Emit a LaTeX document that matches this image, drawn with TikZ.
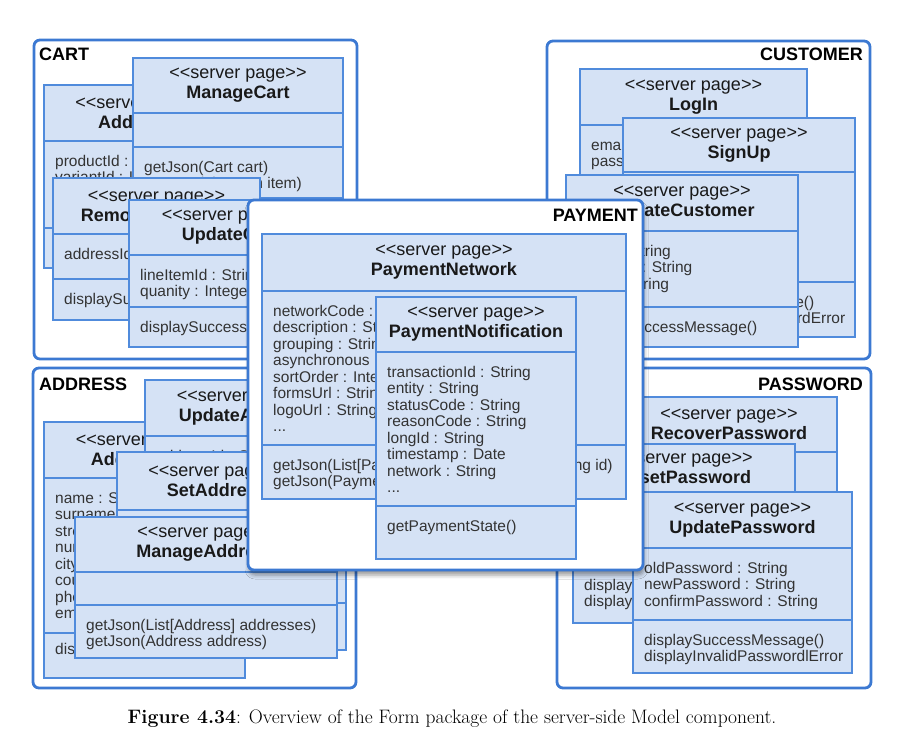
\documentclass[tikz,border=0pt]{standalone}
\usepackage{fontspec}
\setsansfont{Liberation Sans}
\usetikzlibrary{shadows.blur}
\definecolor{pagefill}{RGB}{213,226,245}
\definecolor{pageline}{RGB}{80,139,220}
\definecolor{pkgline}{RGB}{60,121,210}
\newcommand\srv{<{}<server page>{}>}
\newcommand\tp{\rule{0pt}{12pt}}
% one server page: name, x1, y1, x2, y2, header bottom, methods line, attributes, methods
\newcommand\srvpage[9]{%
  \filldraw[pagebox] (#2,#3) rectangle (#4,#5);
  \draw[pagesep] (#2,#6) -- (#4,#6) (#2,#7) -- (#4,#7);
  \node[pagehead] (#1) at ({(#2+#4)/2},{(#3+#6)/2}) {\srv\\\textbf{#1}};
  \node[pagetext] (#1-attr) at (#2+11,#6+13) {\tp#8};
  \node[pagetext] (#1-meth) at (#2+11,#7+13) {\tp#9};}

\begin{document}
\begin{tikzpicture}[x=1pt,y=-1pt,
  pkgbox/.style={fill=white,draw=pkgline,line width=2.8pt,rounded corners=6pt},
  pkglabel/.style={font=\sffamily\bfseries\fontsize{18}{20}\selectfont,inner sep=0},
  pagebox/.style={fill=pagefill,draw=pageline,line width=2.3pt},
  pagesep/.style={draw=pageline,line width=2.3pt},
  pagehead/.style={align=center,inner sep=0,text=black!90,font=\sffamily\fontsize{18}{20}\selectfont},
  pagetext/.style={anchor=north west,align=left,inner sep=0,text=black!80,font=\sffamily\fontsize{15.5}{16.5}\selectfont}]
\useasboundingbox (0,0) rectangle (905,754);
% cart
\filldraw[pkgbox] (34,40) rectangle (357,359);
\node[pkglabel,anchor=base west] (cart) at (39,61) {CART};
\srvpage{AddToCart}{44}{85}{244}{268}{141}{228}{productId : String\\variantId : Integer}{}
\srvpage{ManageCart}{133}{58}{343}{198}{113}{147}{}{getJson(Cart cart)\\getJson(LineItem item)}
\srvpage{RemoveFromCart}{53}{178}{260}{320}{234}{279}{addressId : String}{displaySuccessMessage()}
\srvpage{UpdateCart}{129}{200}{332}{347}{255}{307}{lineItemId : String\\quanity : Integer}{displaySuccessMessage()}
% customer
\filldraw[pkgbox] (547,41) rectangle (870,359);
\node[pkglabel,anchor=base east] (customer) at (863,61) {CUSTOMER};
\srvpage{LogIn}{580}{69}{807}{260}{125}{200}{email : String\\password : String}{}
\srvpage{SignUp}{623}{118}{855}{337}{172}{282}{}{displaySuccessMessage()\\displayIncorrectPasswordError}
\srvpage{UpdateCustomer}{566}{175}{798}{347}{231}{307}{name : String\\surname : String\\email : String}{displaySuccessMessage()}
% address
\filldraw[pkgbox] (33,368) rectangle (356,688);
\node[pkglabel,anchor=base west] (address) at (39,390) {ADDRESS};
\srvpage{AddAddress}{44}{422}{245}{678}{478}{633}{name : String\\surname : String\\street : String\\number : String\\city : String\\country : String\\phone : String\\email : String}{}
\node[pagetext] (AddAddress-ops) at (55,642) {\tp displaySuccessMessage()};
\srvpage{UpdateAddress}{145}{380}{346}{650}{436}{603}{addressId : String}{}
\srvpage{SetAddress}{117}{452}{317}{640}{510}{600}{}{}
\srvpage{ManageAddress}{75}{517}{337}{658}{572}{605}{}{getJson(List[Address] addresses)\\getJson(Address address)}
% password
\filldraw[pkgbox] (557,368) rectangle (871,688);
\node[pkglabel,anchor=base east] (password) at (863,390) {PASSWORD};
\srvpage{RecoverPassword}{621}{397}{837}{560}{452}{500}{}{}
\srvpage{ResetPassword}{573}{444}{795}{623}{492}{565}{}{displaySuccessMessage()\\displayInvalidPasswordError}
\srvpage{UpdatePassword}{633}{492}{852}{673}{548}{620}{oldPassword : String\\newPassword : String\\confirmPassword : String}{displaySuccessMessage()\\displayInvalidPasswordlError}
% payment, on top of the others
\filldraw[pkgbox,blur shadow={shadow xshift=1pt,shadow yshift=-5pt,shadow blur radius=4pt,shadow opacity=40}] (248,200) rectangle (643,570);
\node[pkglabel,anchor=base east] (payment) at (638,222) {PAYMENT};
\srvpage{PaymentNetwork}{262}{234}{626}{499}{291}{445}{networkCode : String\\description : String\\grouping : String\\asynchronous : Boolean\\sortOrder : Integer\\formsUrl : String\\logoUrl : String\\...}{getJson(List[PaymentNetwork] network, String id)\\getJson(PaymentNetwork network)}
\srvpage{PaymentNotification}{376}{297}{576}{559}{352}{506}{transactionId : String\\entity : String\\statusCode : String\\reasonCode : String\\longId : String\\timestamp : Date\\network : String\\...}{getPaymentState()}
% caption
\node[anchor=base,font=\fontsize{19.5}{22}\selectfont] (caption) at (452,723) {\textbf{Figure 4.34}: Overview of the Form package of the server-side Model component.};
\end{tikzpicture}
\end{document}
